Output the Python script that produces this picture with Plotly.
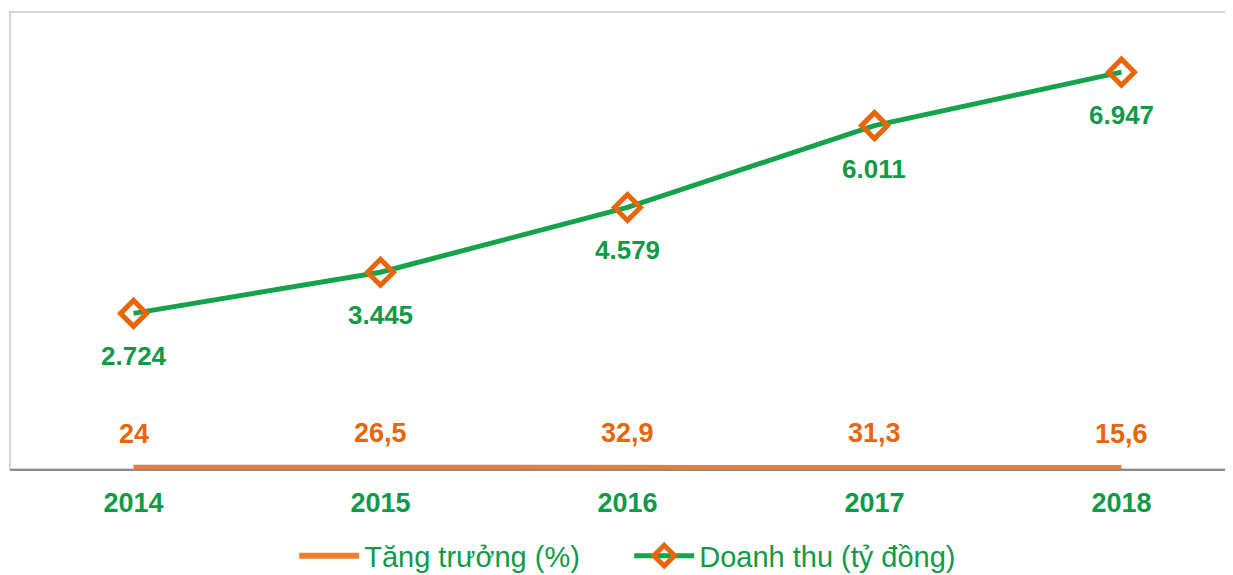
import plotly.graph_objects as go

# Data
years = ["2014", "2015", "2016", "2017", "2018"]
doanh_thu = [2724, 3445, 4579, 6011, 6947]      # tỷ đồng
tang_truong = [24, 26.5, 32.9, 31.3, 15.6]      # %

green = "#109a48"
orange_line = "#ed7d31"
orange_text = "#e8650a"
font_family = "Liberation Sans, Arial, sans-serif"

x_idx = list(range(len(years)))

fig = go.Figure()

# Growth line (plotted on the same axis, so it sits on the bottom)
fig.add_trace(go.Scatter(
    x=x_idx, y=tang_truong,
    mode="lines",
    name="Tăng trưởng (%)",
    line=dict(color=orange_line, width=6),
))

# Revenue line with diamond markers
fig.add_trace(go.Scatter(
    x=x_idx, y=doanh_thu,
    mode="lines+markers",
    name="Doanh thu (tỷ đồng)",
    line=dict(color="#14a34b", width=5),
    marker=dict(symbol="diamond-open", size=20, color=orange_text,
                line=dict(color=orange_text, width=5)),
))

annotations = []
for i, v in enumerate(doanh_thu):
    annotations.append(dict(
        x=i, y=v, xref="x", yref="y",
        text=f"{v:,}".replace(",", "."),
        showarrow=False, yshift=-43,
        font=dict(family=font_family, size=26, color=green, weight="bold"),
    ))
for i, v in enumerate(tang_truong):
    annotations.append(dict(
        x=i, y=v, xref="x", yref="y",
        text=f"{v:g}".replace(".", ","),
        showarrow=False, yshift=34,
        font=dict(family=font_family, size=27, color=orange_text, weight="bold"),
    ))

fig.update_layout(
    width=1233, height=575,
    margin=dict(l=2, r=0, t=4, b=114, autoexpand=False),
    paper_bgcolor="white",
    plot_bgcolor="white",
    font=dict(family=font_family),
    separators=",.",
    showlegend=True,
    legend=dict(
        orientation="h",
        x=0.503, xanchor="center",
        y=-0.19, yanchor="middle",
        font=dict(family=font_family, size=29, color=green),
        itemwidth=60,
        entrywidth=260,
        traceorder="normal",
    ),
    xaxis=dict(
        range=[-0.5, 4.484],
        tickmode="array",
        tickvals=x_idx,
        ticktext=years,
        showgrid=False,
        zeroline=False,
        showline=True,
        linecolor="#8c8c8c",
        linewidth=2,
        ticks="",
        ticklabelstandoff=9,
        tickfont=dict(family=font_family, size=27, color=green, weight="bold"),
    ),
    yaxis=dict(
        range=[0, 8000],
        showgrid=False,
        zeroline=False,
        showticklabels=False,
        showline=False,
    ),
    shapes=[dict(
        type="rect", xref="paper", yref="paper",
        x0=0, x1=1.01, y0=0, y1=1,
        line=dict(color="#d4d4d4", width=2),
        layer="below",
    )],
    annotations=annotations,
)

fig.write_html("out.html")
